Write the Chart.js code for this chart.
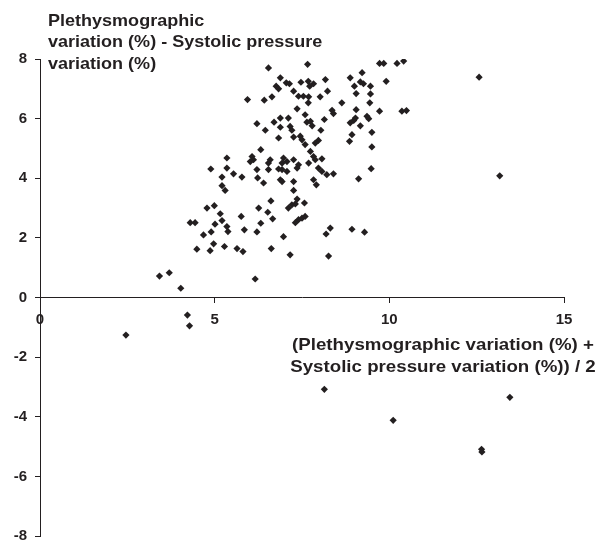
<!DOCTYPE html>
<html>
<head>
<meta charset="utf-8">
<script src="https://cdn.jsdelivr.net/npm/chart.js@4"></script>
<style>
  body { margin: 0; background: #fff; }
  #wrap { width: 598px; height: 545px; }
</style>
</head>
<body>
<div id="wrap"><canvas id="chart" width="598" height="545"></canvas></div>
<script>
// mean of the two variations (%)
const meanVals = [
  6.54, 7.66, 6.88, 7.05, 7.14, 6.76, 6.83, 7.47, 7.68, 7.26,
  6.64, 6.42, 5.94, 7.40, 7.54, 7.68, 7.36, 7.59, 6.88, 7.11,
  6.70, 6.21, 6.88, 7.16, 7.21, 6.45, 7.64, 6.83, 7.26, 7.45,
  7.50, 7.59, 6.32, 5.35, 6.07, 6.11, 6.02, 6.59, 6.54, 6.97,
  7.07, 6.93, 7.26, 7.40, 7.36, 7.69, 4.89, 5.35, 5.54, 5.21,
  5.78, 6.21, 6.23, 6.54, 6.83, 6.93, 7.07, 7.83, 7.72, 7.69,
  7.74, 7.79, 7.74, 7.83, 7.88, 9.72, 9.84, 10.22, 10.41, 8.88,
  9.22, 8.17, 9.17, 9.26, 9.46, 9.00, 9.91, 8.23, 9.05, 9.46,
  8.02, 8.64, 9.44, 8.36, 8.40, 9.05, 9.72, 10.36, 10.49, 8.14,
  8.98, 8.88, 9.03, 9.36, 9.41, 9.17, 8.04, 7.97, 7.88, 9.50,
  8.93, 8.86, 8.07, 9.50, 7.97, 8.07, 8.21, 8.40, 9.48, 7.83,
  9.12, 7.91, 8.31, 8.19, 8.93, 9.29, 8.26, 6.40, 6.88, 6.93,
  7.26, 5.21, 5.30, 7.26, 4.78, 4.99, 5.16, 5.21, 4.30, 4.44,
  5.01, 5.35, 5.38, 5.76, 6.26, 6.61, 6.52, 6.66, 6.32, 5.85,
  6.21, 7.36, 7.57, 7.11, 7.21, 7.31, 7.40, 7.50, 7.59, 7.31,
  4.68, 4.90, 4.97, 4.87, 4.49, 5.28, 5.64, 5.81, 6.62, 6.97,
  7.16, 6.16, 4.03, 3.42, 3.70, 4.22, 4.28, 2.46, 8.14, 10.11,
  12.64, 12.65, 13.45, 12.57, 13.16
];
// difference of the two variations (%)
const diffVals = [
  7.70, 7.82, 7.37, 7.20, 7.17, 7.09, 7.00, 7.22, 7.25, 6.92,
  6.73, 6.62, 6.64, 6.75, 6.75, 6.53, 6.33, 6.13, 6.02, 6.02,
  5.88, 5.83, 5.71, 5.74, 5.61, 5.61, 5.88, 5.35, 5.38, 5.41,
  5.29, 5.13, 4.96, 4.68, 4.73, 4.62, 4.56, 4.62, 4.51, 4.68,
  4.56, 4.51, 4.62, 4.45, 4.34, 4.51, 4.31, 4.34, 4.15, 4.04,
  4.04, 4.29, 4.01, 4.29, 4.31, 4.29, 4.23, 7.17, 7.09, 6.73,
  5.91, 5.76, 4.90, 4.73, 4.62, 7.85, 7.85, 7.85, 7.93, 7.37,
  7.54, 7.31, 7.23, 7.17, 7.09, 7.09, 7.25, 6.92, 6.84, 6.83,
  6.73, 6.53, 6.53, 6.28, 6.17, 6.30, 6.25, 6.25, 6.27, 5.97,
  5.94, 5.86, 6.02, 6.08, 6.00, 5.76, 5.61, 5.27, 5.18, 5.54,
  5.46, 5.24, 4.65, 5.05, 4.34, 4.23, 4.12, 4.15, 4.32, 3.95,
  3.98, 3.78, 2.33, 2.13, 2.29, 2.19, 1.39, 3.84, 3.95, 3.89,
  3.89, 3.75, 3.59, 3.59, 3.00, 3.08, 2.81, 2.58, 2.51, 2.51,
  2.46, 2.38, 2.21, 2.72, 3.00, 3.24, 2.86, 2.64, 2.49, 2.27,
  2.20, 3.30, 3.17, 3.00, 3.11, 3.14, 2.61, 2.66, 2.72, 2.51,
  2.10, 2.20, 1.80, 1.57, 1.62, 1.71, 1.64, 1.54, 1.64, 2.04,
  1.43, 0.62, 0.31, 0.72, 0.83, -0.59, -0.95, -1.26, -3.08, -4.12,
  -5.09, -5.18, -3.35, 7.39, 4.08
];
const xTicks = [0, 5, 10, 15];
const yTicks = [-8, -6, -4, -2, 0, 2, 4, 6, 8];
const yTitle = ['Plethysmographic', 'variation (%) - Systolic pressure', 'variation (%)'];
const xTitle = ['(Plethysmographic variation (%) +', 'Systolic pressure variation (%)) / 2'];

const points = meanVals.map((m, i) => ({ x: m, y: diffVals[i] }));
const ink = '#231f20';
const font = { family: '"Liberation Sans", Arial, sans-serif', size: 15, weight: 'bold' };

// axis titles sit inside the plot like in the original figure
// (the original lettering is a bit wider than Arial, so stretch it)
function drawLines(ctx, lines, x, y0, step, stretch, align) {
  lines.forEach((t, i) => {
    ctx.save();
    ctx.translate(x, y0 + i * step);
    ctx.scale(stretch, 1);
    ctx.textAlign = align;
    ctx.fillText(t, 0, 0);
    ctx.restore();
  });
}

const titles = {
  id: 'titles',
  afterDraw(chart) {
    const ctx = chart.ctx;
    ctx.save();
    ctx.fillStyle = ink;
    ctx.font = 'bold 17px "Liberation Sans", Arial, sans-serif';
    ctx.textBaseline = 'alphabetic';
    drawLines(ctx, yTitle, 48, 25.5, 21.5, 1.06, 'left');
    drawLines(ctx, xTitle, 443, 349.5, 22.3, 1.1, 'center');
    ctx.restore();
  }
};

new Chart(document.getElementById('chart'), {
  type: 'scatter',
  data: {
    datasets: [{
      data: points,
      pointStyle: 'rectRot',
      pointRadius: 3.6,
      pointHoverRadius: 3.6,
      backgroundColor: ink,
      borderColor: ink,
      borderWidth: 0
    }]
  },
  options: {
    responsive: false,
    animation: false,
    events: [],
    layout: {
      padding: { left: 0, top: 59, right: 34, bottom: 9 }
    },
    plugins: {
      legend: { display: false },
      tooltip: { enabled: false }
    },
    scales: {
      x: {
        type: 'linear',
        position: { y: 0 },
        min: 0,
        max: 15,
        afterBuildTicks: (scale) => { scale.ticks = xTicks.map(v => ({ value: v })); },
        grid: { drawOnChartArea: false, drawTicks: true, tickLength: 5, color: ink },
        border: { display: true, color: ink, width: 1 },
        ticks: { color: ink, font: font, padding: 8, maxRotation: 0 }
      },
      y: {
        type: 'linear',
        min: -8,
        max: 8,
        afterBuildTicks: (scale) => { scale.ticks = yTicks.map(v => ({ value: v })); },
        afterFit: (scale) => {
          scale.width = 40;
          scale.paddingTop = 0;
          scale.paddingBottom = 0;
        },
        grid: { drawOnChartArea: false, drawTicks: true, tickLength: 5, color: ink },
        border: { display: true, color: ink, width: 1 },
        ticks: { color: ink, font: font, padding: 8 }
      }
    }
  },
  plugins: [titles]
});
</script>
</body>
</html>
